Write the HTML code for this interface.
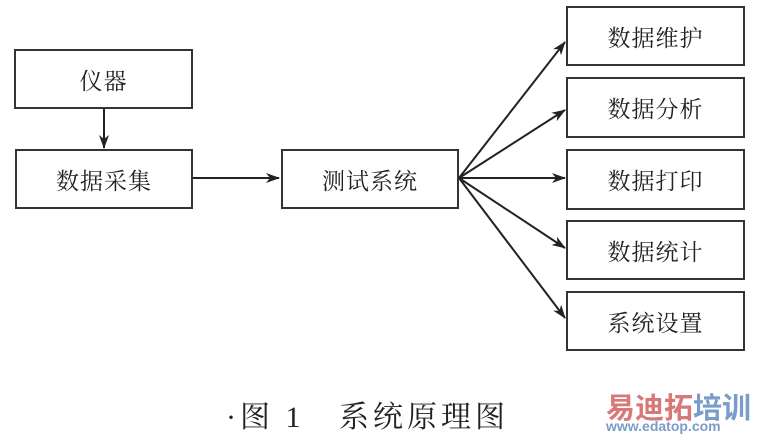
<!DOCTYPE html>
<html><head><meta charset="utf-8"><style>
body{margin:0;width:760px;height:436px;background:#fff;position:relative;overflow:hidden;font-family:"Liberation Serif","Noto Serif CJK SC",serif;color:#222}
.b{position:absolute;border:2px solid #333;box-sizing:border-box;display:flex;align-items:center;justify-content:center;font-size:23px;letter-spacing:1px}
</style></head><body>
<div class="b" style="left:14px;top:49px;width:179px;height:60px">仪器</div>
<div class="b" style="left:15px;top:149px;width:178px;height:60px">数据采集</div>
<div class="b" style="left:281px;top:149px;width:178px;height:60px">测试系统</div>
<div class="b" style="left:566px;top:6px;width:179px;height:60px">数据维护</div>
<div class="b" style="left:566px;top:77px;width:179px;height:61px">数据分析</div>
<div class="b" style="left:566px;top:149px;width:179px;height:61px">数据打印</div>
<div class="b" style="left:566px;top:220px;width:179px;height:60px">数据统计</div>
<div class="b" style="left:566px;top:291px;width:179px;height:60px">系统设置</div>
<svg width="760" height="436" style="position:absolute;left:0;top:0">
<defs><marker id="a" markerWidth="14" markerHeight="10" refX="13" refY="5" orient="auto" markerUnits="userSpaceOnUse"><path d="M0,0L14,5L0,10L4,5z" fill="#222"/></marker></defs>
<g stroke="#222" stroke-width="2" fill="none" marker-end="url(#a)">
<line x1="104" y1="109" x2="104" y2="148"/>
<line x1="193" y1="178" x2="279" y2="178"/>
<line x1="459" y1="178" x2="565" y2="42"/>
<line x1="459" y1="178" x2="565" y2="110"/>
<line x1="459" y1="178" x2="565" y2="178"/>
<line x1="459" y1="178" x2="565" y2="248"/>
<line x1="459" y1="178" x2="565" y2="318"/>
</g></svg>
<div style="position:absolute;left:226px;top:392px;font-size:30px;letter-spacing:4px;white-space:nowrap">·图 1&nbsp;&nbsp;&nbsp;系统原理图</div>
<div style="position:absolute;left:606px;top:393px;font-size:29px;font-weight:bold;font-family:'Noto Sans CJK SC',sans-serif;line-height:26px;white-space:nowrap"><span style="color:#d87878">易迪拓</span><span style="color:#7a9cc8">培训</span></div>
<div style="position:absolute;left:606px;top:419px;font-size:14px;line-height:14px;font-weight:bold;color:#7a9cc8;font-family:'Liberation Sans',sans-serif">www.edatop.com</div>
</body></html>
